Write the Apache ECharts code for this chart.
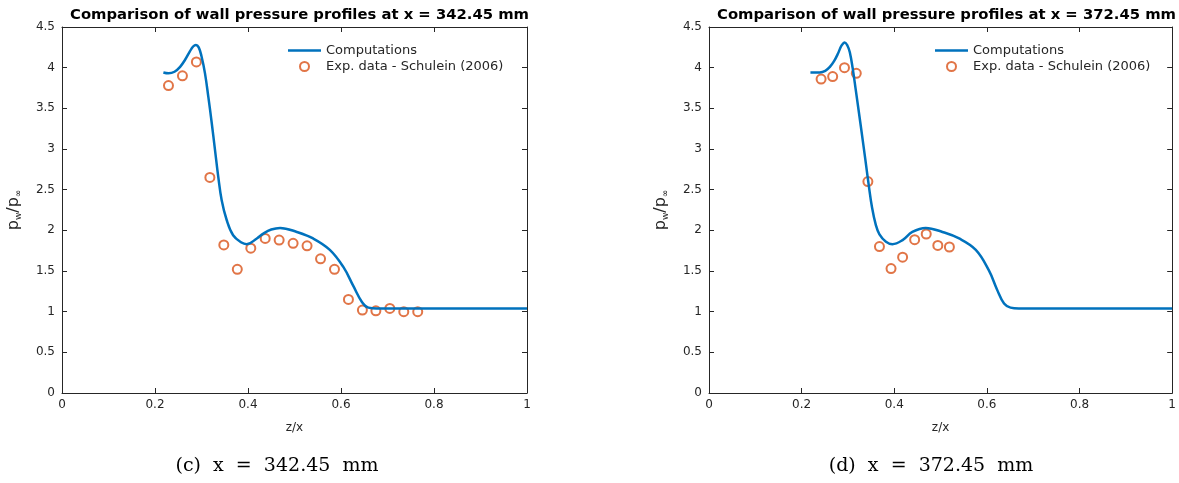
<!DOCTYPE html>
<html>
<head>
<meta charset="utf-8">
<title>Wall pressure profiles</title>
<script src="https://cdn.jsdelivr.net/npm/echarts@6/dist/echarts.min.js"></script>
<style>
  html, body { margin: 0; padding: 0; background: #fff; }
  #chart { width: 1179px; height: 483px; }
</style>
</head>
<body>
<div id="chart"></div>
<script>
// computed wall pressure, x = 342.45 mm  [z/x, pw/pinf]
var compLeft = [
  [0.218, 3.94], [0.229, 3.93], [0.242, 3.95], [0.254, 4.01], [0.265, 4.10],
  [0.275, 4.20], [0.282, 4.26], [0.288, 4.28], [0.294, 4.25], [0.300, 4.14],
  [0.3075, 3.93], [0.3147, 3.64], [0.322, 3.32], [0.329, 2.99], [0.336, 2.66],
  [0.3434, 2.37], [0.354, 2.13], [0.368, 1.94], [0.386, 1.85], [0.397, 1.83],
  [0.419, 1.90], [0.433, 1.96], [0.450, 2.01], [0.469, 2.03],
  [0.505, 1.98], [0.540, 1.90], [0.576, 1.76], [0.605, 1.55], [0.627, 1.31],
  [0.645, 1.12], [0.659, 1.05], [0.677, 1.04], [1.0, 1.04]
];
// Schulein (2006) measurements, x = 342.45 mm
var expLeft = [
  [0.229, 3.78], [0.259, 3.90], [0.289, 4.07], [0.318, 2.65], [0.348, 1.82],
  [0.377, 1.52], [0.406, 1.78], [0.437, 1.90], [0.467, 1.88], [0.497, 1.84],
  [0.527, 1.81], [0.556, 1.65], [0.586, 1.52], [0.616, 1.15], [0.646, 1.02],
  [0.675, 1.01], [0.705, 1.04], [0.735, 1.00], [0.765, 1.00]
];
// computed wall pressure, x = 372.45 mm
var compRight = [
  [0.219, 3.94], [0.239, 3.94], [0.251, 3.96], [0.261, 4.01], [0.270, 4.08],
  [0.279, 4.18], [0.286, 4.27], [0.293, 4.31], [0.299, 4.27], [0.304, 4.19],
  [0.310, 4.00], [0.317, 3.72], [0.328, 3.27], [0.338, 2.85], [0.345, 2.55],
  [0.352, 2.28], [0.360, 2.07], [0.368, 1.95], [0.382, 1.86], [0.396, 1.83],
  [0.418, 1.88], [0.439, 1.98], [0.468, 2.03], [0.504, 1.98], [0.540, 1.90],
  [0.576, 1.76], [0.604, 1.51], [0.622, 1.27], [0.637, 1.10], [0.651, 1.05],
  [0.669, 1.04], [1.0, 1.04]
];
// Schulein (2006) measurements, x = 372.45 mm
var expRight = [
  [0.242, 3.86], [0.267, 3.89], [0.2925, 4.00], [0.318, 3.93], [0.343, 2.60],
  [0.368, 1.80], [0.393, 1.53], [0.418, 1.67], [0.444, 1.885], [0.469, 1.955],
  [0.494, 1.815], [0.519, 1.795]
];
var titles = ['Comparison of wall pressure profiles at x = 342.45 mm',
              'Comparison of wall pressure profiles at x = 372.45 mm'];
var captions = ['(c)  x  =  342.45  mm', '(d)  x  =  372.45  mm'];
var seriesNames = ['Computations', 'Exp. data - Schulein (2006)'];

var AX = '#262626';
var BLUE = '#0072BD', ORANGE = '#D95319';
var FONT = 'DejaVu Sans';
var plotLeft = [62, 709];
var plotW = 465, plotTop = 27, plotH = 366;

// thin line icon for the legend; the invisible corners keep a 33x9 box so it is not stretched
var lineIcon = 'path://M0,0L0.01,0L0.01,0.01Z M0,3.25L33,3.25L33,5.75L0,5.75Z M32.99,9L33,9L33,8.99Z';

var chart = echarts.init(document.getElementById('chart'));

function tick() {
  return { inside: true, length: 5, lineStyle: { color: AX } };
}
function xAxes(i) {
  return [{
    type: 'value', gridIndex: i, min: 0, max: 1, interval: 0.2,
    name: 'z/x', nameLocation: 'middle', nameGap: 29,
    nameTextStyle: { color: AX, fontFamily: FONT, fontSize: 12 },
    axisLine: { onZero: false, lineStyle: { color: AX, width: 1 } },
    axisTick: tick(),
    axisLabel: { color: AX, fontFamily: FONT, fontSize: 12, margin: 6 },
    splitLine: { show: false }
  }, {
    type: 'value', gridIndex: i, position: 'top', min: 0, max: 1, interval: 0.2,
    axisLine: { onZero: false, lineStyle: { color: AX, width: 1 } },
    axisTick: tick(),
    axisLabel: { show: false }, splitLine: { show: false }
  }];
}
function yAxes(i) {
  return [{
    type: 'value', gridIndex: i, min: 0, max: 4.5, interval: 0.5,
    name: '{p|p}{s|w}{p|/p}{s|∞}', nameLocation: 'middle', nameGap: 39,
    nameTextStyle: {
      rich: {
        p: { color: AX, fontFamily: FONT, fontSize: 16 },
        s: { color: AX, fontFamily: FONT, fontSize: 9, padding: [9, 0, 0, 0] }
      }
    },
    axisLine: { onZero: false, lineStyle: { color: AX, width: 1 } },
    axisTick: tick(),
    axisLabel: { color: AX, fontFamily: FONT, fontSize: 12, margin: 7 },
    splitLine: { show: false }
  }, {
    type: 'value', gridIndex: i, position: 'right', min: 0, max: 4.5, interval: 0.5,
    axisLine: { onZero: false, lineStyle: { color: AX, width: 1 } },
    axisTick: tick(),
    axisLabel: { show: false }, splitLine: { show: false }
  }];
}

var option = {
  animation: false,
  backgroundColor: '#fff',
  title: [0, 1].map(function (i) {
    return {
      text: titles[i], left: plotLeft[i] + plotW / 2, top: 3, textAlign: 'center',
      textStyle: { color: '#000', fontFamily: FONT, fontWeight: 'bold', fontSize: 14.8 }
    };
  }),
  legend: [0, 1].map(function (i) {
    return {
      left: plotLeft[i] + 226, top: 44, orient: 'vertical', padding: 0,
      itemWidth: 33, itemHeight: 9, itemGap: 3,
      data: [
        { name: seriesNames[0], icon: lineIcon, itemStyle: { color: BLUE } },
        { name: seriesNames[1], icon: 'emptyCircle' }
      ],
      textStyle: { color: AX, fontFamily: FONT, fontSize: 13 }
    };
  }),
  grid: [0, 1].map(function (i) {
    return { left: plotLeft[i], top: plotTop, width: plotW, height: plotH };
  }),
  xAxis: xAxes(0).concat(xAxes(1)),
  yAxis: yAxes(0).concat(yAxes(1)),
  series: [
    { name: seriesNames[0], type: 'line', xAxisIndex: 0, yAxisIndex: 0, data: compLeft,
      smooth: 0.4, symbol: 'none', lineStyle: { color: BLUE, width: 2.5 },
      itemStyle: { color: BLUE } },
    { name: seriesNames[1], type: 'scatter', xAxisIndex: 0, yAxisIndex: 0, data: expLeft,
      symbol: 'emptyCircle', symbolSize: 9,
      itemStyle: { color: ORANGE, borderColor: ORANGE, borderWidth: 1.2 } },
    { name: seriesNames[0], type: 'line', xAxisIndex: 2, yAxisIndex: 2, data: compRight,
      smooth: 0.4, symbol: 'none', lineStyle: { color: BLUE, width: 2.5 },
      itemStyle: { color: BLUE } },
    { name: seriesNames[1], type: 'scatter', xAxisIndex: 2, yAxisIndex: 2, data: expRight,
      symbol: 'emptyCircle', symbolSize: 9,
      itemStyle: { color: ORANGE, borderColor: ORANGE, borderWidth: 1.2 } }
  ],
  graphic: [0, 1].map(function (i) {
    return {
      type: 'text', x: [277, 931][i], y: 466,
      style: {
        text: captions[i], fill: '#000', align: 'center', verticalAlign: 'middle',
        font: '19px "DejaVu Serif"'
      }
    };
  })
};
chart.setOption(option);
</script>
</body>
</html>
